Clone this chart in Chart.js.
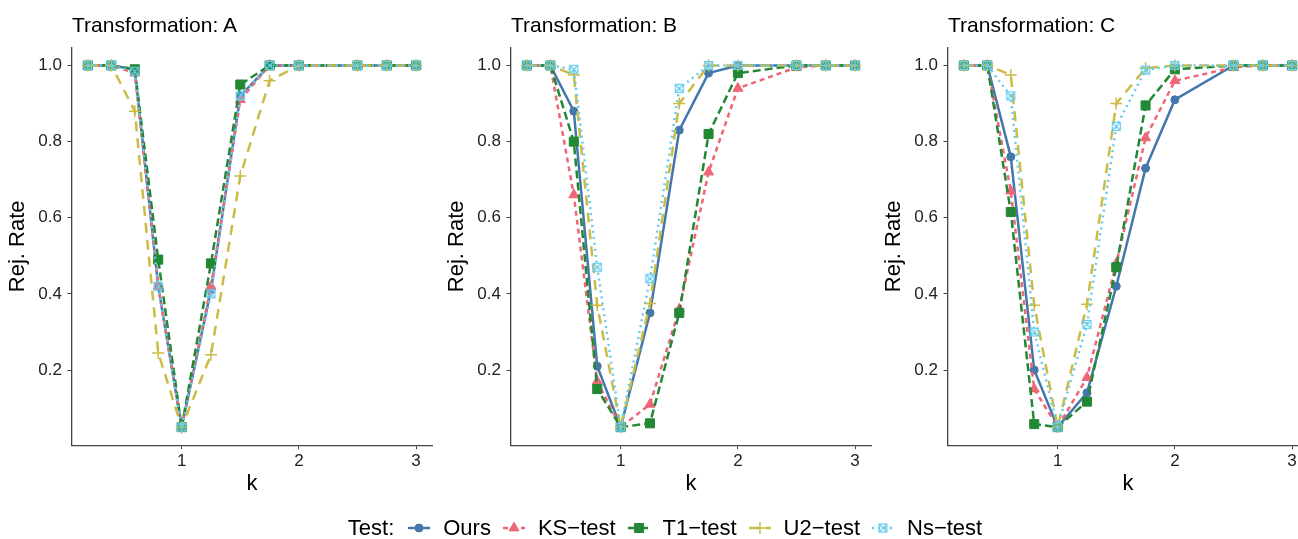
<!DOCTYPE html>
<html>
<head>
<meta charset="utf-8">
<title>Rej. Rate vs k</title>
<script src="https://cdn.jsdelivr.net/npm/chart.js@4.4.0/dist/chart.umd.min.js"></script>
<style>
    body {
        margin: 0;
        width: 1298px;
        height: 539px;
        overflow: hidden;
        background: #fff;
        position: relative;
        font-family: "Liberation Sans", Arial, sans-serif;
    }
    .panel {
        position: absolute;
        top: 0;
        width: 445px;
        height: 539px;
    }
    .panel-title {
        position: absolute;
        top: 14px;
        font-size: 21px;
        line-height: 21px;
        color: #000;
        white-space: nowrap;
    }
    #legend {
        position: absolute;
        top: 515px;
        left: 0;
        width: 1330px;
        height: 26px;
        line-height: 26px;
        display: flex;
        justify-content: center;
        align-items: center;
        font-size: 22px;
        color: #000;
    }
    #legend .lead { margin-right: 14px; }
    #legend .item { display: flex; align-items: center; margin-right: 12px; }
    #legend .item:last-child { margin-right: 0; }
    #legend canvas { margin-right: 13px; }
</style>
</head>
<body>

<div class="panel" style="left:0px"><canvas id="chartA"></canvas></div>
<div class="panel" style="left:439px"><canvas id="chartB"></canvas></div>
<div class="panel" style="left:876px"><canvas id="chartC"></canvas></div>

<div class="panel-title" style="left:72px">Transformation: A</div>
<div class="panel-title" style="left:511px">Transformation: B</div>
<div class="panel-title" style="left:948px">Transformation: C</div>

<div id="legend"><span class="lead">Test:</span></div>

<script>
// --- data ---
const kValues = [0.2, 0.4, 0.6, 0.8, 1, 1.25, 1.5, 1.75, 2, 2.5, 2.75, 3];
const xTicks = [1, 2, 3];
const yTicks = [0.2, 0.4, 0.6, 0.8, 1.0];
const testNames = ['Ours', 'KS\u2212test', 'T1\u2212test', 'U2\u2212test', 'Ns\u2212test'];

// Transformation A
const oursA = [1, 1, 0.99, 0.42, 0.05, 0.41, 0.92, 1, 1, 1, 1, 1];
const ksA   = [1, 1, 0.98, 0.42, 0.05, 0.42, 0.91, 1, 1, 1, 1, 1];
const t1A   = [1, 1, 0.99, 0.49, 0.05, 0.48, 0.95, 1, 1, 1, 1, 1];
const u2A   = [1, 1, 0.88, 0.245, 0.05, 0.24, 0.71, 0.96, 1, 1, 1, 1];
const nsA   = [1, 1, 0.985, 0.42, 0.05, 0.40, 0.92, 1, 1, 1, 1, 1];

// Transformation B
const oursB = [1, 1, 0.88, 0.21, 0.05, 0.35, 0.83, 0.98, 1, 1, 1, 1];
const ksB   = [1, 1, 0.66, 0.17, 0.05, 0.11, 0.36, 0.72, 0.94, 0.995, 1, 1];
const t1B   = [1, 1, 0.80, 0.15, 0.05, 0.06, 0.35, 0.82, 0.98, 1, 1, 1];
const u2B   = [1, 1, 0.975, 0.37, 0.05, 0.375, 0.90, 1, 1, 1, 1, 1];
const nsB   = [1, 1, 0.99, 0.47, 0.05, 0.44, 0.94, 1, 1, 1, 1, 1];

// Transformation C
const oursC = [1, 1, 0.76, 0.20, 0.05, 0.14, 0.42, 0.73, 0.91, 1, 1, 1];
const ksC   = [1, 1, 0.67, 0.15, 0.05, 0.18, 0.48, 0.81, 0.96, 0.995, 1, 1];
const t1C   = [1, 1, 0.615, 0.058, 0.05, 0.117, 0.47, 0.895, 0.99, 1, 1, 1];
const u2C   = [1, 1, 0.975, 0.37, 0.05, 0.373, 0.90, 0.993, 1, 1, 1, 1];
const nsC   = [1, 1, 0.92, 0.30, 0.05, 0.32, 0.84, 0.988, 1, 1, 1, 1];

// --- styling ---
const testColors = ['#4477AA', '#EE6677', '#228833', '#CCBB44', '#66CCEE'];
const testDashes = [[], [5, 4], [8, 4], [10, 7], [2, 4]];

// square with a cross inside (R shape 7), drawn once and reused as a point image
function squareCross(color) {
    const c = document.createElement('canvas');
    c.width = 11;
    c.height = 11;
    const g = c.getContext('2d');
    g.strokeStyle = color;
    g.lineWidth = 1.2;
    g.strokeRect(1.5, 1.5, 8, 8);
    g.beginPath();
    g.moveTo(1.5, 1.5); g.lineTo(9.5, 9.5);
    g.moveTo(9.5, 1.5); g.lineTo(1.5, 9.5);
    g.stroke();
    return c;
}

const testPoints = [
    { pointStyle: 'circle', radius: 4, borderWidth: 1 },
    { pointStyle: 'triangle', radius: 5.8, borderWidth: 1 },
    { pointStyle: 'rect', radius: 6.4, borderWidth: 1 },
    { pointStyle: 'cross', radius: 6, borderWidth: 1.5 },
    { pointStyle: squareCross(testColors[4]), radius: 5, borderWidth: 1 }
];

Chart.defaults.font.family = '"Liberation Sans", Arial, sans-serif';

function makePanel(canvasId, series) {
    const canvas = document.getElementById(canvasId);
    canvas.width = 445;
    canvas.height = 539;

    const datasets = series.map((values, i) => ({
        label: testNames[i],
        data: kValues.map((k, j) => ({ x: k, y: values[j] })),
        borderColor: testColors[i],
        backgroundColor: testColors[i],
        borderWidth: 2.5,
        borderDash: testDashes[i],
        pointStyle: testPoints[i].pointStyle,
        pointRadius: testPoints[i].radius,
        pointBorderWidth: testPoints[i].borderWidth,
        pointBackgroundColor: testColors[i],
        pointBorderColor: testColors[i],
        tension: 0,
        fill: false,
        clip: false,
        // later tests are painted on top, like ggplot layers
        order: series.length - i
    }));

    return new Chart(canvas, {
        type: 'line',
        data: { datasets },
        options: {
            responsive: false,
            animation: false,
            devicePixelRatio: 1,
            layout: { padding: { top: 47.4, right: 12.5, bottom: 41.4, left: 0 } },
            plugins: {
                legend: { display: false },
                tooltip: { enabled: false }
            },
            scales: {
                x: {
                    type: 'linear',
                    min: 0.06,
                    max: 3.14,
                    afterBuildTicks: (scale) => { scale.ticks = xTicks.map(v => ({ value: v })); },
                    afterFit: (scale) => { scale.height = 52.4; },
                    grid: { drawOnChartArea: false, drawTicks: true, tickLength: 4, color: '#444', lineWidth: 1 },
                    border: { display: true, color: '#444', width: 1.3 },
                    ticks: {
                        color: '#222',
                        font: { size: 17 },
                        padding: 2,
                        maxRotation: 0,
                        callback: (v) => String(v)
                    },
                    title: {
                        display: true,
                        text: 'k',
                        color: '#000',
                        font: { size: 22 },
                        padding: { top: 0, bottom: 0 }
                    }
                },
                y: {
                    type: 'linear',
                    min: 0.0025,
                    max: 1.0475,
                    afterBuildTicks: (scale) => { scale.ticks = yTicks.map(v => ({ value: v })); },
                    afterFit: (scale) => { scale.width = 71.5; },
                    grid: { drawOnChartArea: false, drawTicks: true, tickLength: 4, color: '#444', lineWidth: 1 },
                    border: { display: true, color: '#444', width: 1.3 },
                    ticks: {
                        color: '#222',
                        font: { size: 17 },
                        padding: 5.5,
                        callback: (v) => v.toFixed(1)
                    },
                    title: {
                        display: true,
                        text: 'Rej. Rate',
                        color: '#000',
                        font: { size: 22 },
                        padding: { top: 5.2, bottom: 0 }
                    }
                }
            }
        }
    });
}

function buildLegend() {
    const legend = document.getElementById('legend');
    testNames.forEach((name, i) => {
        const item = document.createElement('span');
        item.className = 'item';

        const key = document.createElement('canvas');
        key.width = 22;
        key.height = 18;
        const ctx = key.getContext('2d');
        ctx.strokeStyle = testColors[i];
        ctx.fillStyle = testColors[i];
        ctx.lineWidth = 2.5;
        ctx.setLineDash(testDashes[i]);
        ctx.beginPath();
        ctx.moveTo(0, 9);
        ctx.lineTo(22, 9);
        ctx.stroke();
        ctx.setLineDash([]);
        ctx.lineWidth = testPoints[i].borderWidth;
        Chart.helpers.drawPoint(ctx, {
            pointStyle: testPoints[i].pointStyle,
            radius: testPoints[i].radius,
            rotation: 0,
            borderWidth: testPoints[i].borderWidth
        }, 11, 9);

        const label = document.createElement('span');
        label.textContent = name;

        item.appendChild(key);
        item.appendChild(label);
        legend.appendChild(item);
    });
}

makePanel('chartA', [oursA, ksA, t1A, u2A, nsA]);
makePanel('chartB', [oursB, ksB, t1B, u2B, nsB]);
makePanel('chartC', [oursC, ksC, t1C, u2C, nsC]);
buildLegend();
</script>
</body>
</html>
